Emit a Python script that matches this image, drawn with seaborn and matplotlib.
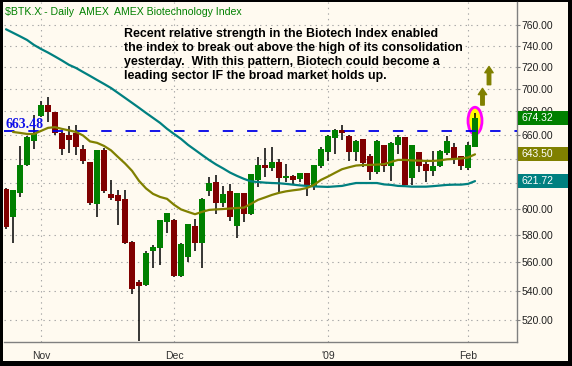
import matplotlib
matplotlib.use("Agg")
import matplotlib.pyplot as plt
import matplotlib.transforms as mtransforms
from matplotlib.patches import Ellipse, Rectangle
from matplotlib.ticker import NullLocator, FixedLocator
import numpy as np
import pandas as pd
import seaborn as sns

# $BTK.X daily bars, 27 Oct 2008 .. 3 Feb 2009 (trading days)
opens = [615.5, 594.0, 612.6, 634.8, 655.0, 676.4, 685.8, 679.3, 661.2, 659.7,
         661.2, 648.0, 637.0, 603.6, 647.2, 611.8, 610.8, 607.7, 575.2, 546.4,
         544.0, 568.4, 570.3, 590.2, 591.5, 550.4, 563.9, 586.9, 574.4, 614.2,
         621.0, 604.8, 614.0, 587.2, 612.4, 596.3, 622.9, 634.8, 632.6, 637.2,
         624.3, 626.0, 623.5, 628.4, 618.1, 634.0, 645.8, 657.5, 663.8, 659.2,
         645.8, 656.2, 642.2, 628.9, 651.4, 634.0, 651.4, 658.1, 624.1, 645.5,
         635.9, 630.2, 634.3, 644.9, 649.7, 642.2, 632.6, 649.5]
highs = [616.0, 615.0, 650.8, 658.5, 677.0, 689.6, 692.6, 679.5, 662.0, 667.0,
         668.6, 651.4, 637.5, 647.5, 649.0, 622.7, 614.7, 614.7, 575.5, 547.5,
         568.5, 572.7, 591.7, 597.0, 592.0, 574.3, 588.6, 592.2, 608.0, 625.0,
         626.4, 617.9, 619.5, 612.6, 612.6, 627.7, 641.3, 648.8, 649.7, 639.7,
         635.6, 626.5, 628.6, 628.6, 635.0, 649.7, 659.5, 665.0, 668.6, 660.0,
         655.2, 656.4, 643.8, 655.2, 651.6, 654.2, 659.5, 658.3, 651.6, 645.7,
         638.9, 646.4, 646.8, 658.9, 653.3, 642.4, 654.2, 679.0]
lows = [584.6, 574.4, 608.9, 634.0, 648.0, 675.5, 670.7, 659.7, 643.0, 645.0,
        643.0, 635.6, 603.0, 594.0, 612.0, 606.7, 587.6, 573.5, 537.7, 506.4,
        543.3, 556.3, 558.0, 581.4, 549.5, 549.5, 560.5, 568.4, 556.3, 609.6,
        596.3, 601.6, 591.0, 578.0, 589.6, 595.5, 617.3, 625.3, 630.2, 612.6,
        621.0, 619.7, 621.0, 609.6, 615.0, 632.4, 638.3, 643.8, 655.6, 638.3,
        638.3, 633.4, 622.7, 627.8, 629.4, 622.1, 643.8, 618.7, 618.7, 629.0,
        621.3, 626.0, 633.0, 643.0, 635.6, 631.0, 630.7, 649.3]
closes = [586.4, 614.7, 634.8, 658.3, 661.2, 685.8, 679.3, 661.2, 648.0, 655.6,
          650.0, 638.0, 604.3, 647.2, 614.0, 608.7, 606.0, 574.4, 541.4, 543.4,
          567.1, 571.4, 591.5, 596.8, 550.4, 573.5, 588.4, 574.4, 607.7, 620.5,
          604.8, 611.6, 594.0, 612.4, 596.3, 627.5, 634.8, 632.1, 637.2, 624.6,
          626.2, 622.7, 628.4, 618.1, 634.8, 648.0, 658.9, 663.8, 661.0, 645.8,
          655.0, 636.7, 628.9, 655.0, 634.0, 653.3, 658.1, 618.7, 651.4, 634.0,
          630.2, 634.0, 646.6, 654.7, 640.3, 634.0, 651.4, 674.32]
# moving averages as drawn on the chart
sma20 = [np.nan, 662.3, 661.5, 660.6, 660.6, 663.2, 665.8, 666.4, 664.9, 663.6,
         662.3, 659.3, 654.3, 653.1, 650.5, 646.8, 641.3, 636.0, 630.0, 621.9,
         615.9, 611.6, 609.2, 607.7, 603.1, 599.5, 597.6, 595.8, 597.6, 599.1,
         599.5, 599.8, 600.2, 600.6, 600.9, 603.8, 606.9, 608.8, 610.8, 612.4,
         613.6, 614.4, 615.1, 616.3, 618.7, 622.7, 625.4, 628.4, 631.3, 632.9,
         634.3, 634.7, 634.8, 635.1, 635.4, 637.2, 638.9, 638.9, 638.5, 638.3,
         638.1, 638.1, 638.5, 639.4, 639.7, 640.1, 640.9, 643.5]
sma50 = [755.8, 752.4, 749.0, 745.5, 740.7, 736.9, 733.5, 729.8, 726.0, 722.0,
         719.1, 715.4, 711.8, 708.1, 704.5, 700.8, 696.4, 692.0, 687.6, 683.2,
         678.7, 674.4, 670.1, 665.0, 660.6, 656.4, 651.4, 647.2, 643.0, 638.9,
         635.2, 632.0, 628.6, 625.9, 623.5, 621.5, 621.0, 620.5, 620.2, 620.0,
         619.5, 618.9, 618.3, 617.9, 617.5, 617.3, 617.1, 617.5, 617.9, 619.1,
         620.2, 620.2, 620.2, 620.2, 619.1, 618.7, 617.9, 617.7, 617.3, 617.3,
         617.3, 617.7, 618.2, 618.7, 618.9, 618.9, 619.5, 621.72]

month_pos = [5, 24, 46, 66]
month_labels = ["Nov", "Dec", "'09", "Feb"]
week_pos = [0, 5, 10, 15, 20, 24, 29, 34, 39, 43, 47, 52, 57, 61, 66]
price_ticks = [520, 540, 560, 580, 600, 620, 640, 660, 680, 700, 720, 740, 760]
hidden_ticks = [620, 640]  # covered by the value boxes on the original
breakout = 663.48

note = ("Recent relative strength in the Biotech Index enabled\n"
        "the index to break out above the high of its consolidation\n"
        "yesterday.  With this pattern, Biotech could become a\n"
        "leading sector IF the broad market holds up.")

GREEN, RED, OLIVE, TEAL = "#008000", "#800000", "#808000", "#008080"
BG = "#FFFAF0"

sns.set_style("white")
plt.rcParams["font.family"] = ["Liberation Sans", "DejaVu Sans"]
plt.rcParams["lines.scale_dashes"] = False

df = pd.DataFrame({"open": opens, "high": highs, "low": lows, "close": closes,
                   "sma20": sma20, "sma50": sma50})
df["i"] = np.arange(len(df))
up = df["close"] >= df["open"]

W, H = 572, 366
fig = plt.figure(figsize=(W / 100, H / 100), dpi=100, facecolor="black")
fig.add_artist(Rectangle((3 / W, 5 / H), 565 / W, 359 / H, transform=fig.transFigure,
                         facecolor=BG, edgecolor="none", zorder=0))
ax = fig.add_axes([4 / W, 24 / H, 513 / W, 340 / H])
ax.set_facecolor(BG)
ax.set_axisbelow(True)

ax.set_yscale("log")
ax.set_xlim(-0.29, 73)
ax.set_ylim(505.5, 782.8)

# highlight around last bar
ell = Ellipse((0, 0), 0.14, 0.27, facecolor="#FFFF00", edgecolor="#FF00FF", lw=2,
              transform=fig.dpi_scale_trans + mtransforms.ScaledTranslation(
                  df["i"].iloc[-1], 671.9, ax.transData), zorder=2)
ax.add_artist(ell)

ax.vlines(df["i"], df["low"], df["high"], color="black", lw=1.1, zorder=3)
ax.bar(df["i"][up], (df["close"] - df["open"])[up], bottom=df["open"][up],
       width=0.86, color=GREEN, lw=0, zorder=4)
ax.bar(df["i"][~up], (df["open"] - df["close"])[~up], bottom=df["close"][~up],
       width=0.86, color=RED, lw=0, zorder=4)

ax.axhline(breakout, color="#0000E8", lw=1.3, ls=(0, (7.5, 10)), zorder=4.5)

sns.lineplot(data=df, x="i", y="sma50", color=TEAL, lw=1.6, ax=ax, zorder=5,
             estimator=None, sort=False)
sns.lineplot(data=df, x="i", y="sma20", color=OLIVE, lw=1.6, ax=ax, zorder=5,
             estimator=None, sort=False)

# arrows
for xa, y0, y1 in [(68.07, 685.6, 700.5), (69.0, 703.8, 720.5)]:
    ax.annotate("", xy=(xa, y1), xytext=(xa, y0),
                arrowprops=dict(arrowstyle="simple,head_length=0.45,head_width=0.6,tail_width=0.25",
                                color=OLIVE, mutation_scale=10, shrinkA=0, shrinkB=0))

# axes cosmetics
ax.yaxis.tick_right()
ax.yaxis.set_major_locator(FixedLocator(price_ticks))
ax.yaxis.set_minor_locator(NullLocator())
ax.set_yticklabels(["" if v in hidden_ticks else f"{v:.2f}" for v in price_ticks])
ax.set_xticks(month_pos)
ax.set_xticklabels(month_labels)
ax.xaxis.set_minor_locator(FixedLocator(week_pos))
ax.tick_params(axis="y", which="major", direction="out", length=2.5, width=0.8,
               color="#808080", pad=0.5, labelsize=7.5, labelcolor="#202020")
ax.tick_params(axis="x", which="both", direction="out", length=2.5, width=0.8,
               color="#808080", pad=3, labelsize=7.5, labelcolor="#303030")
ax.tick_params(axis="x", which="major", length=3.2)
ax.set_xlabel("")
ax.set_ylabel("")
ax.grid(axis="y", which="major", ls=(0, (1, 3)), color="#A8A8A8", lw=0.8)
ax.grid(axis="x", which="major", ls=(0, (1, 3)), color="#A8A8A8", lw=0.8)
for s in ["top", "left"]:
    ax.spines[s].set_visible(False)
for s in ["right", "bottom"]:
    ax.spines[s].set_color("#808080")
    ax.spines[s].set_linewidth(1.0)

ax.text(0.002, breakout, "663.48", transform=mtransforms.blended_transform_factory(ax.transAxes, ax.transData),
        ha="left", va="bottom", color="#1010E8", fontsize=10, fontweight="bold",
        family=["Liberation Serif", "DejaVu Serif"], zorder=6)

fig.text(5 / W, 1 - 12 / H, r"\$BTK.X - Daily  AMEX  AMEX Biotechnology Index",
         ha="left", va="center", color=GREEN, fontsize=7.6)
fig.text(124 / W, 1 - 28 / H, note, ha="left", va="top", color="black",
         fontsize=8.9, fontweight="bold", linespacing=1.23)

# last-value boxes on the price axis
for val, col in [(closes[-1], GREEN), (sma20[-1], OLIVE), (sma50[-1], TEAL)]:
    yd = ax.transData.transform((0, val))[1]
    fig.add_artist(Rectangle((518, yd - 7), 50, 14, transform=mtransforms.IdentityTransform(),
                             facecolor=col, edgecolor="none", zorder=3))
    fig.text(522 / W, yd / H, f"{val:.2f}", ha="left", va="center", color="white",
             fontsize=7.5, zorder=4)

fig.savefig("out.png", dpi=100, facecolor="black")
